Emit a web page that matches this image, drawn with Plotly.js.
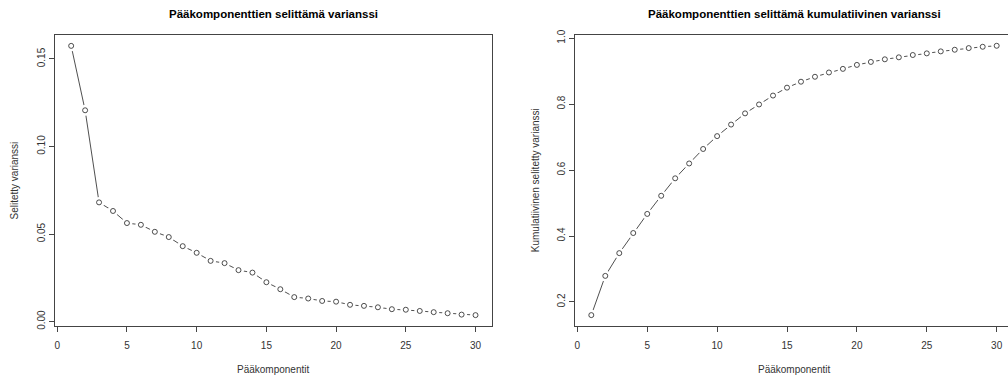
<!DOCTYPE html>
<html>
<head>
<meta charset="utf-8">
<script src="https://cdn.plot.ly/plotly-3.0.1.min.js"></script>
<style>html,body{margin:0;padding:0;background:#fff}#chart{width:1008px;height:381px}</style>
</head>
<body>
<div id="chart"></div>
<script>
// Principal component numbers
const components = [1,2,3,4,5,6,7,8,9,10,11,12,13,14,15,16,17,18,19,20,21,22,23,24,25,26,27,28,29,30];
// Explained variance per component
const explainedVariance = [0.1575,0.1207,0.0681,0.0632,0.0563,0.0553,0.0513,0.0483,0.0431,0.0393,
  0.0347,0.0334,0.0294,0.0280,0.0225,0.0185,0.0140,0.0132,0.0118,0.0114,
  0.0096,0.0090,0.0082,0.0071,0.0068,0.0061,0.0054,0.0048,0.0040,0.0037];
// Cumulative explained variance
const cumulativeVariance = [0.160,0.279,0.348,0.409,0.467,0.522,0.575,0.620,0.664,0.703,
  0.738,0.772,0.799,0.826,0.850,0.868,0.883,0.896,0.907,0.919,
  0.928,0.936,0.942,0.949,0.954,0.960,0.965,0.970,0.974,0.977];
const xTicks = [0,5,10,15,20,25,30];
const leftYTicks = [0,0.05,0.10,0.15];
const leftYTickText = ["0.00","0.05","0.10","0.15"];
const rightYTicks = [0.2,0.4,0.6,0.8,1.0];
const rightYTickText = ["0.2","0.4","0.6","0.8","1.0"];
const titleLeft = "Pääkomponenttien selittämä varianssi";
const titleRight = "Pääkomponenttien selittämä kumulatiivinen varianssi";
const xLabel = "Pääkomponentit";
const yLabelLeft = "Selitetty varianssi";
const yLabelRight = "Kumulatiivinen selitetty varianssi";

const W = 1008, H = 381;
const FONT = "Liberation Sans, Arial, sans-serif";
const TXT = "#333";

function series(y, xa, ya) {
  return [
    {x: components, y: y, xaxis: xa, yaxis: ya, mode: 'lines', line: {color: '#222', width: 0.8}, hoverinfo: 'skip'},
    {x: components, y: y, xaxis: xa, yaxis: ya, mode: 'markers', marker: {color: '#fff', size: 11, line: {width: 0}}, hoverinfo: 'skip'},
    {x: components, y: y, xaxis: xa, yaxis: ya, mode: 'markers', marker: {symbol: 'circle-open', color: '#222', size: 5, line: {width: 0.8, color: '#222'}}, hoverinfo: 'skip'}
  ];
}

const data = [].concat(series(explainedVariance, 'x', 'y'), series(cumulativeVariance, 'x2', 'y2'));

const yTop = 1 - 35/H, yBot = 1 - 326/H;
const axCommon = {
  showgrid: false, zeroline: false, showline: true, linecolor: '#444', linewidth: 1,
  ticks: 'outside', ticklen: 5, tickcolor: '#444', tickwidth: 1,
  tickfont: {family: FONT, size: 10, color: TXT}
};

const layout = {
  width: W, height: H,
  margin: {l: 0, r: 0, t: 0, b: 0},
  paper_bgcolor: '#fff', plot_bgcolor: '#fff',
  showlegend: false,
  xaxis: Object.assign({}, axCommon, {domain: [55/W, 491.7/W], range: [-0.16, 31.16], tickvals: xTicks, ticktext: xTicks.map(String), mirror: true, anchor: 'y', ticklabelstandoff: 5}),
  yaxis: Object.assign({}, axCommon, {domain: [yBot, yTop], range: [-0.0025, 0.1637], tickvals: leftYTicks, ticktext: leftYTickText, tickangle: -90, mirror: true, anchor: 'x'}),
  xaxis2: Object.assign({}, axCommon, {domain: [575.1/W, 1], range: [-0.16, 30.81], tickvals: xTicks, ticktext: xTicks.map(String), mirror: true, anchor: 'y2', ticklabelstandoff: 5}),
  yaxis2: Object.assign({}, axCommon, {domain: [yBot, yTop], range: [0.127, 1.0097], tickvals: rightYTicks, ticktext: rightYTickText, tickangle: -90, mirror: false, anchor: 'x2'}),
  annotations: [
    {text: '<b>' + titleLeft + '</b>', xref: 'paper', yref: 'paper', x: 273.3/W, y: 1 - 13.5/H, showarrow: false, xanchor: 'center', yanchor: 'middle', font: {family: FONT, size: 11.5, color: '#000'}},
    {text: '<b>' + titleRight + '</b>', xref: 'paper', yref: 'paper', x: 794/W, y: 1 - 13.5/H, showarrow: false, xanchor: 'center', yanchor: 'middle', font: {family: FONT, size: 11.5, color: '#000'}},
    {text: xLabel, xref: 'paper', yref: 'paper', x: 273.3/W, y: 1 - 369/H, showarrow: false, xanchor: 'center', yanchor: 'middle', font: {family: FONT, size: 10, color: TXT}},
    {text: xLabel, xref: 'paper', yref: 'paper', x: 794/W, y: 1 - 369/H, showarrow: false, xanchor: 'center', yanchor: 'middle', font: {family: FONT, size: 10, color: TXT}},
    {text: yLabelLeft, xref: 'paper', yref: 'paper', x: 14/W, y: 1 - 180.5/H, showarrow: false, textangle: -90, xanchor: 'center', yanchor: 'middle', font: {family: FONT, size: 10, color: TXT}},
    {text: yLabelRight, xref: 'paper', yref: 'paper', x: 535.7/W, y: 1 - 180.5/H, showarrow: false, textangle: -90, xanchor: 'center', yanchor: 'middle', font: {family: FONT, size: 10, color: TXT}}
  ]
};

Plotly.newPlot('chart', data, layout, {displayModeBar: false, staticPlot: true});
</script>
</body>
</html>
